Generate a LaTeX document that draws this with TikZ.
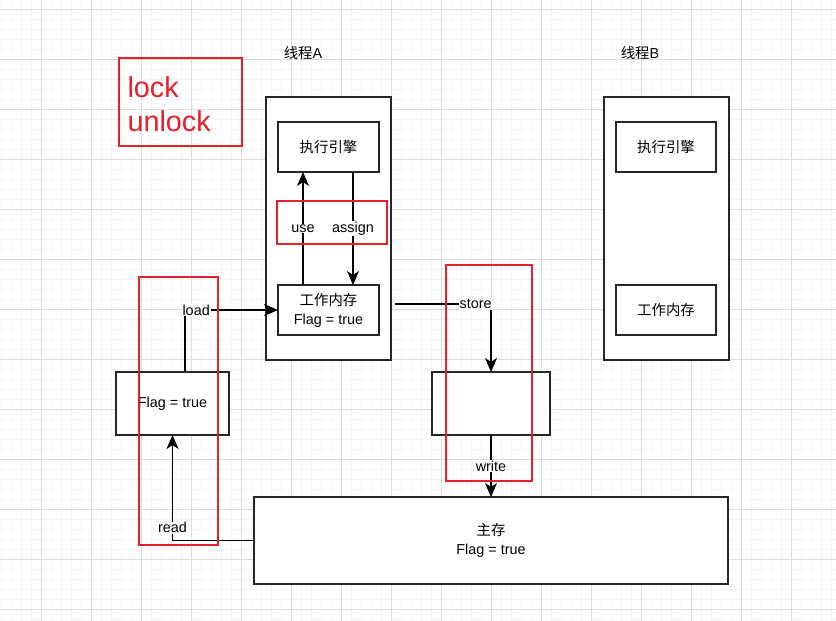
\documentclass[tikz,border=0pt]{standalone}
\usepackage{fontspec}
\setmainfont{Liberation Sans}
\newfontfamily\cjk{Noto Sans CJK SC}
\usetikzlibrary{arrows.meta}
\definecolor{markred}{RGB}{230,32,42}
\definecolor{gridminor}{RGB}{245,245,245}
\definecolor{gridmajor}{RGB}{221,221,221}
\begin{document}
\begin{tikzpicture}[
    x=1pt, y=-1pt,
    every node/.style={font=\fontsize{14.4}{19}\selectfont},
    box/.style={draw=black!85, line width=1.2pt, fill=white, inner sep=0pt, outer sep=0pt},
    redbox/.style={draw=markred, line width=2.2pt, inner sep=0pt, outer sep=0pt},
    flow/.style={line width=1.2pt, -{Stealth[length=14pt,width=12pt,inset=4pt]}},
    tag/.style={fill=white, inner sep=1pt},
  ]
  \useasboundingbox (0,0) rectangle (836,621);
  \fill[white] (0,0) rectangle (836,621);
  \foreach \gx in {1,11,...,831} \draw[gridminor, line width=0.8pt] (\gx,0) -- (\gx,621);
  \foreach \gy in {9,19,...,619} \draw[gridminor, line width=0.8pt] (0,\gy) -- (836,\gy);
  \foreach \gx in {41,91,...,791} \draw[gridmajor, line width=0.8pt] (\gx,0) -- (\gx,621);
  \foreach \gy in {9,59,...,609} \draw[gridmajor, line width=0.8pt] (0,\gy) -- (836,\gy);

  \node (titleA) at (303,53) {{\cjk 线程}A};
  \node (titleB) at (640,53) {{\cjk 线程}B};

  \node[box, minimum width=125pt, minimum height=263pt] (thrA) at (328.5,228.5) {};
  \node[box, minimum width=101pt, minimum height=50pt] (engA) at (328.5,147) {\cjk 执行引擎};
  \node[box, minimum width=101pt, minimum height=50pt, align=center] (wmA) at (328.5,310) {{\cjk 工作内存}\\Flag = true};

  \node[box, minimum width=125pt, minimum height=263pt] (thrB) at (666.5,228.5) {};
  \node[box, minimum width=100pt, minimum height=50pt] (engB) at (666,147) {\cjk 执行引擎};
  \node[box, minimum width=100pt, minimum height=50pt] (wmB) at (666,310) {\cjk 工作内存};

  \node[box, minimum width=113pt, minimum height=63pt] (flagL) at (172.5,403.5) {Flag = true};
  \node[box, minimum width=118pt, minimum height=63pt] (mid) at (491,403.5) {};
  \node[box, minimum width=474pt, minimum height=87pt, align=center] (main) at (491,540.5) {{\cjk 主存}\\Flag = true};

  \coordinate (useX) at (303,0);
  \coordinate (assignX) at (353,0);
  \coordinate (loadX) at (185,0);
  \coordinate (storeS) at (395,304);

  \draw[flow] (wmA.north -| useX) -- node[tag, pos=0.5] {use} (engA.south -| useX);
  \draw[flow] (engA.south -| assignX) -- node[tag, pos=0.5] {assign} (wmA.north -| assignX);
  \draw[flow] (flagL.north -| loadX) |- node[tag, pos=0.56] {load} (wmA.west);
  \draw[flow] (main.west) -| node[tag, pos=0.56] {read} (flagL.south);
  \draw[flow] (storeS) -| node[tag, pos=0.42] {store} (mid.north);
  \draw[flow] (mid.south) -- node[tag] {write} (main.north);

  \node[redbox, minimum width=123pt, minimum height=88pt] (lockBox) at (180.5,102) {};
  \node[anchor=west, align=left, text=markred, font=\fontsize{28.8}{34}\selectfont] (lockTxt) at (124,104) {lock\\unlock};
  \node[redbox, minimum width=110pt, minimum height=43pt] (useBox) at (332,222.5) {};
  \node[redbox, minimum width=79pt, minimum height=268pt] (readBox) at (178.5,411) {};
  \node[redbox, minimum width=86pt, minimum height=216pt] (storeBox) at (489,373) {};
\end{tikzpicture}
\end{document}
